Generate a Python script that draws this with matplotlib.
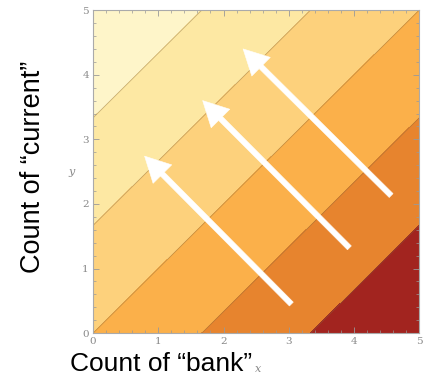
import matplotlib
matplotlib.use("Agg")
import numpy as np
from matplotlib import pyplot as plt
from matplotlib.colors import ListedColormap

# contour levels of x - y and band colours (light -> dark)
levels = [-5, -10 / 3, -5 / 3, 0, 5 / 3, 10 / 3, 5]
band_colors = ["#fef5c9", "#fde8a3", "#fdd17c", "#fbb04a", "#e7842e", "#a2241f"]

# arrows: tail (x, y) -> head (x, y)
tails = [(3.04, 0.45), (3.93, 1.32), (4.57, 2.13)]
heads = [(0.79, 2.74), (1.68, 3.60), (2.30, 4.40)]

ticks = [0, 1, 2, 3, 4, 5]

fig = plt.figure(figsize=(4.23, 3.76), dpi=100)
ax = fig.add_axes([0.22, 0.114, 0.771, 0.859])

xs = np.linspace(0, 5, 201)
X, Y = np.meshgrid(xs, xs)
Z = X - Y
ax.contourf(X, Y, Z, levels=levels, cmap=ListedColormap(band_colors))
ax.contour(X, Y, Z, levels=levels[1:-1], colors="#8a6a3a", linewidths=0.6,
           alpha=0.45, linestyles="solid")

for (tx, ty), (hx, hy) in zip(tails, heads):
    ax.annotate("", xy=(hx, hy), xytext=(tx, ty),
                arrowprops=dict(arrowstyle="simple,head_length=1.3,head_width=1.35,tail_width=0.28",
                                fc="white", ec="white", lw=0.4, mutation_scale=14,
                                shrinkA=0, shrinkB=0))

ax.set_xlim(0, 5)
ax.set_ylim(0, 5)
ax.set_xticks(ticks)
ax.set_yticks(ticks)
ax.set_xticks(np.arange(0, 5.01, 0.2), minor=True)
ax.set_yticks(np.arange(0, 5.01, 0.2), minor=True)
ax.tick_params(which="both", direction="in", top=True, right=True, colors="#999999",
               labelcolor="#888888", labelsize=7.5, pad=3)
ax.tick_params(which="major", length=4, width=0.6)
ax.tick_params(which="minor", length=2, width=0.5)
for lab in ax.get_xticklabels() + ax.get_yticklabels():
    lab.set_family("DejaVu Serif")
for sp in ax.spines.values():
    sp.set_color("#aaaaaa")
    sp.set_linewidth(0.8)

fig.text(0.170, 0.542, "y", fontsize=8, color="#888888", style="italic",
         family="DejaVu Serif", ha="center", va="center")
fig.text(0.603, 0.018, "x", fontsize=8, color="#888888", style="italic",
         family="DejaVu Serif", ha="left", va="center")
fig.text(0.078, 0.557, "Count of \u201ccurrent\u201d", rotation=90, fontsize=19.5,
         family="Liberation Sans", ha="center", va="center")
fig.text(0.166, 0.014, "Count of \u201cbank\u201d", fontsize=19,
         family="Liberation Sans", ha="left", va="baseline")

fig.savefig("out.png", dpi=100)
